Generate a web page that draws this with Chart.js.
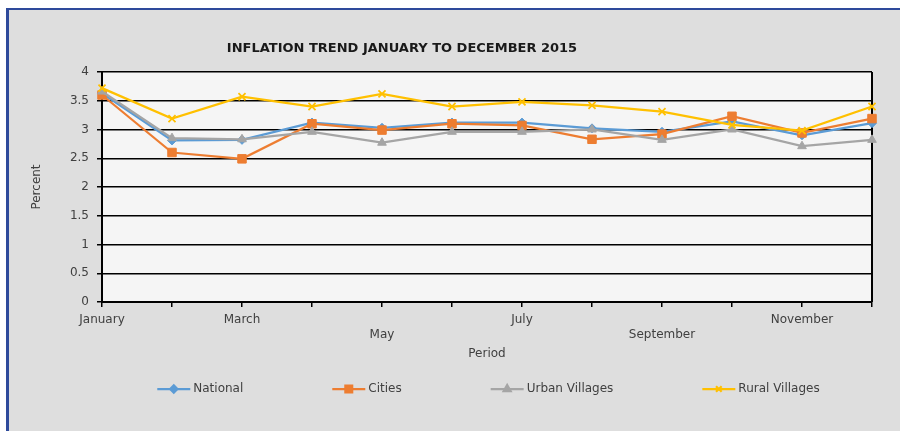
<!DOCTYPE html>
<html><head><meta charset="utf-8">
<script src="https://cdn.jsdelivr.net/npm/chart.js@4.4.1/dist/chart.umd.min.js"></script>
<style>
html,body{margin:0;padding:0;width:900px;height:431px;overflow:hidden;background:#fff;}
#frame{position:absolute;left:6px;top:8px;width:1000px;height:500px;background:#dedede;border-left:3px solid #2e4a9b;border-top:2px solid #2e4a9b;}
#wrap{position:absolute;left:0;top:0;width:900px;height:431px;}
</style></head><body>
<div id="frame"></div>
<div id="wrap"><canvas id="c" width="900" height="431"></canvas></div>
<script>
const chartTitle = 'INFLATION TREND JANUARY TO DECEMBER 2015';
const months = ['January','February','March','April','May','June','July','August','September','October','November','December'];
const national = [3.63, 2.81, 2.82, 3.12, 3.03, 3.12, 3.12, 3.02, 2.96, 3.14, 2.90, 3.11];
const cities   = [3.60, 2.60, 2.49, 3.10, 2.99, 3.10, 3.07, 2.83, 2.92, 3.23, 2.94, 3.19];
const urbanVillages = [3.66, 2.85, 2.83, 2.96, 2.77, 2.96, 2.96, 3.00, 2.82, 3.00, 2.71, 2.82];
const ruralVillages = [3.72, 3.19, 3.57, 3.40, 3.62, 3.40, 3.48, 3.42, 3.31, 3.08, 2.98, 3.40];
const seriesNames = ['National','Cities','Urban Villages','Rural Villages'];
const yTicks = [0, 0.5, 1, 1.5, 2, 2.5, 3, 3.5, 4];

const FONT = "'DejaVu Sans', sans-serif";
const colors = ['#5b9bd5', '#ed7d31', '#a5a5a5', '#ffc000'];
const styles = [
  {pointStyle:'rectRot', radius:4.5},
  {pointStyle:'rect', radius:6},
  {pointStyle:'triangle', radius:5},
  {pointStyle:'crossRot', radius:5}
];
const staggered = [4, 8];

function ds(i, data, order){
  return {
    label: seriesNames[i], data, order,
    borderColor: colors[i], backgroundColor: colors[i],
    borderWidth: 2.25, tension: 0,
    pointStyle: styles[i].pointStyle, pointRadius: styles[i].radius,
    pointBackgroundColor: colors[i], pointBorderColor: colors[i],
    pointBorderWidth: i === 3 ? 1.8 : 1
  };
}

const bgPlugin = {
  id: 'bg',
  beforeDraw(chart){
    const {ctx, chartArea:a} = chart;
    ctx.save();
    ctx.fillStyle = '#f5f5f5';
    ctx.fillRect(a.left, a.top, a.right - a.left, a.bottom - a.top);
    ctx.restore();
  },
  beforeDatasetsDraw(chart){
    const {ctx, chartArea:a} = chart;
    ctx.save();
    ctx.strokeStyle = '#000';
    ctx.lineWidth = 2;
    ctx.beginPath();
    ctx.moveTo(a.right, a.top);
    ctx.lineTo(a.right, a.bottom);
    ctx.stroke();
    ctx.restore();
  }
};

const titleLegendPlugin = {
  id: 'titleLegend',
  afterDraw(chart){
    const ctx = chart.ctx;
    ctx.save();
    ctx.fillStyle = '#1a1a1a';
    ctx.font = "bold 13px " + FONT;
    ctx.textAlign = 'center';
    ctx.textBaseline = 'middle';
    ctx.fillText(chartTitle, 402, 49);

    ctx.font = "12px " + FONT;
    const lineW = 33, gap = 3, between = 89;
    const widths = seriesNames.map(n => lineW + gap + ctx.measureText(n).width);
    const total = widths.reduce((s, w) => s + w, 0) + between * (seriesNames.length - 1);
    let x = 488.5 - total / 2;
    const y = 389;
    seriesNames.forEach((n, i) => {
      ctx.strokeStyle = colors[i];
      ctx.lineWidth = 2.25;
      ctx.beginPath();
      ctx.moveTo(x, y); ctx.lineTo(x + lineW, y); ctx.stroke();
      ctx.fillStyle = colors[i];
      ctx.strokeStyle = colors[i];
      Chart.helpers.drawPoint(ctx, {pointStyle: styles[i].pointStyle, radius: styles[i].radius * 0.8, borderWidth: i === 3 ? 1.8 : 1, rotation: 0}, x + lineW / 2, y);
      ctx.fillStyle = '#404040';
      ctx.textAlign = 'left';
      ctx.fillText(n, x + lineW + gap, y);
      x += widths[i] + between;
    });
    ctx.restore();
  }
};

new Chart(document.getElementById('c'), {
  type: 'line',
  data: {
    labels: months,
    datasets: [
      ds(0, national, 4),
      ds(1, cities, 3),
      ds(2, urbanVillages, 2),
      ds(3, ruralVillages, 1)
    ]
  },
  options: {
    responsive: false,
    devicePixelRatio: 1,
    animation: false,
    layout: {padding: {left: 30, right: 28, top: 72, bottom: 70}},
    plugins: {legend: {display: false}, title: {display: false}, tooltip: {enabled: false}},
    scales: {
      x: {
        type: 'category', offset: false,
        grid: {display: true, drawOnChartArea: false, drawTicks: true, tickLength: 5, color: '#000', lineWidth: 1.5},
        border: {display: true, color: '#000', width: 2},
        ticks: {
          autoSkip: false, maxRotation: 0, minRotation: 0, padding: 6,
          color: '#404040', font: {family: FONT, size: 12},
          callback: function(v, i){
            if (i % 2 !== 0) return '';
            const t = months[i];
            return staggered.includes(i) ? ['', t] : t;
          }
        },
        title: {display: true, text: 'Period', color: '#404040', font: {family: FONT, size: 12}, padding: 0},
        afterFit: s => { s.height = 59; }
      },
      y: {
        min: 0, max: 4,
        afterBuildTicks: s => { s.ticks = yTicks.map(v => ({value: v})); },
        grid: {color: '#000', lineWidth: 1.5, tickLength: 5, drawTicks: true},
        border: {display: true, color: '#000', width: 2},
        ticks: {color: '#404040', font: {family: FONT, size: 12}, padding: 8, callback: v => String(Number(v))},
        title: {display: true, text: 'Percent', color: '#404040', font: {family: FONT, size: 12}, padding: 0},
        afterFit: s => { s.width = 72; }
      }
    }
  },
  plugins: [bgPlugin, titleLegendPlugin]
});
</script>
</body></html>
